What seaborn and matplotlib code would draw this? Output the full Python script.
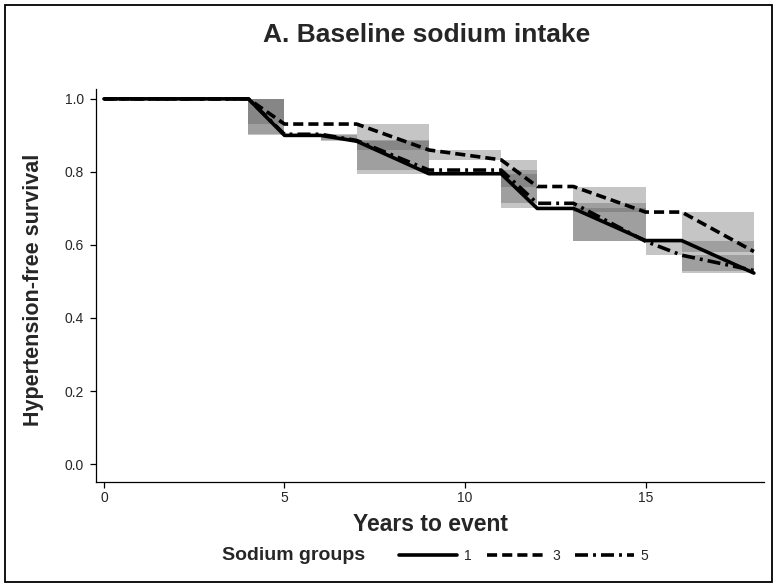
import matplotlib
matplotlib.use('Agg')
import matplotlib.pyplot as plt
from matplotlib.lines import Line2D
from matplotlib.patches import Rectangle
import seaborn as sns
import pandas as pd

# datos (supervivencia por grupo de sodio)
years = [0, 4, 5, 6, 7, 9, 11, 12, 13, 15, 16, 18]
surv_1 = [1.0, 1.0, 0.900, 0.900, 0.884, 0.795, 0.795, 0.700, 0.700, 0.612, 0.612, 0.523]
surv_3 = [1.0, 1.0, 0.931, 0.931, 0.931, 0.860, 0.833, 0.760, 0.760, 0.690, 0.690, 0.582]
surv_5 = [1.0, 1.0, 0.903, 0.903, 0.886, 0.805, 0.805, 0.714, 0.714, 0.610, 0.572, 0.530]
groups = ['1', '3', '5']
x_ticks = [0, 5, 10, 15]
y_ticks = [0.0, 0.2, 0.4, 0.6, 0.8, 1.0]

sns.set_style('ticks')
plt.rcParams['font.family'] = ['Liberation Sans', 'DejaVu Sans']

df = pd.concat([
    pd.DataFrame({'years': years, 'surv': s, 'group': g})
    for g, s in zip(groups, [surv_1, surv_3, surv_5])
], ignore_index=True)

dash_map = {'1': '', '3': (2.8, 1.4), '5': (3.6, 1.4, 0.8, 1.4)}

fig = plt.figure(figsize=(7.78, 5.87), dpi=100)
ax = fig.add_axes([0.1234, 0.1789, 0.8586, 0.6695])

# rectangulos grises: rango de cada curva en cada intervalo
for g in groups:
    sub = df[df['group'] == g].reset_index(drop=True)
    for i in range(len(sub) - 1):
        lo = min(sub['surv'][i], sub['surv'][i + 1])
        hi = max(sub['surv'][i], sub['surv'][i + 1])
        if hi - lo > 1e-6:
            ax.fill_between([sub['years'][i], sub['years'][i + 1]], lo, hi,
                            color='0.35', alpha=0.35, lw=0, zorder=1)

sns.lineplot(data=df, x='years', y='surv', style='group', dashes=dash_map,
             color='black', lw=2.6, estimator=None, sort=False, legend=False,
             ax=ax, zorder=3)

ax.set_xlim(-0.22, 18.28)
ax.set_ylim(-0.049, 1.027)
ax.set_xticks(x_ticks)
ax.set_yticks(y_ticks)
ax.set_yticklabels([f'{v:.1f}' for v in y_ticks])
ax.tick_params(axis='both', direction='out', length=4.5, width=0.9,
               labelsize=10, color='black')
ax.tick_params(axis='y', pad=4)
ax.tick_params(axis='x', pad=2)
for side in ['top', 'right']:
    ax.spines[side].set_visible(False)
for side in ['left', 'bottom']:
    ax.spines[side].set_linewidth(0.9)
    ax.spines[side].set_color('black')

ax.set_xlabel('Years to event', fontsize=16.5, fontweight='bold')
ax.xaxis.set_label_coords(0.5, -0.107)
ax.xaxis.label.set_verticalalignment('center')
ax.set_ylabel('Hypertension-free survival', fontsize=15.5, fontweight='bold')
ax.yaxis.set_label_coords(-0.094, 0.49)
ax.yaxis.label.set_verticalalignment('center')

fig.text(0.549, 0.94, 'A. Baseline sodium intake', ha='center', va='center',
         fontsize=19, fontweight='bold')

# leyenda abajo
fig.text(222 / 778, 1 - 556 / 587, 'Sodium groups', ha='left', va='center',
         fontsize=14, fontweight='bold')
handles = [Line2D([], [], color='black', lw=2.6) for g in groups]
for h, g in zip(handles, groups):
    if dash_map[g] != '':
        h.set_dashes(dash_map[g])
fig.legend(handles, groups, loc='center left', bbox_to_anchor=(399 / 778, 1 - 556 / 587),
           ncol=3, frameon=False, fontsize=10, handlelength=4.2, handletextpad=0.5,
           columnspacing=1.1, borderpad=0, borderaxespad=0)

# marco exterior
fig.patches.append(Rectangle((5 / 778, 5 / 587), 767 / 778, 577 / 587, fill=False,
                             lw=1.3, edgecolor='black', transform=fig.transFigure, figure=fig))

fig.savefig('out.png', dpi=100)
plt.close()
